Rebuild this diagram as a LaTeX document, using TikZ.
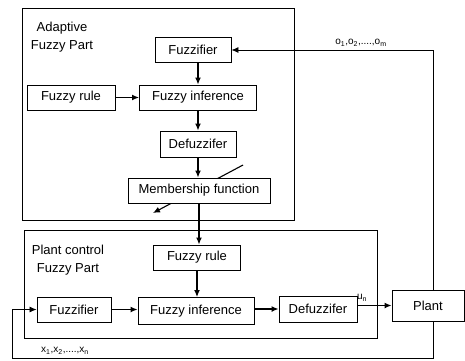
\documentclass[tikz,border=0pt]{standalone}
\usepackage{fontspec}
\setmainfont{Liberation Sans}
\usetikzlibrary{arrows.meta}
\begin{document}
\begin{tikzpicture}[x=1pt,y=-1pt,
  blk/.style={draw,line width=0.9pt,fill=white,inner sep=0pt,font=\fontsize{13}{15}\selectfont},
  frame/.style={draw,line width=0.7pt},
  arr/.style={line width=1.3pt,-{Latex[length=7pt,width=6pt]}},
  fb/.style={line width=0.8pt},
  fbarr/.style={line width=0.8pt,-{Latex[length=7pt,width=6pt]}},
  lbl/.style={font=\fontsize{10}{12}\selectfont,inner sep=1pt},
  ttl/.style={font=\fontsize{13}{18}\selectfont,align=center,inner sep=0pt}]
\useasboundingbox (0,0) rectangle (465,360);
% frames
\draw[frame] (22,8) rectangle (294,220);
\draw[frame] (24,230) rectangle (377,338);
\node[ttl] (t1) at (62,37) {Adaptive\\Fuzzy Part};
\node[ttl] (t2) at (68,260) {Plant control\\Fuzzy Part};
% diagonal adaptation arrow (behind membership box)
\coordinate (dgA) at (243,165);
\coordinate (dgB) at (153,213);
\draw[line width=1.1pt,-{Latex[length=7pt,width=6pt]}] (dgA) -- (dgB);
% adaptive part
\node[blk,minimum width=76pt,minimum height=25pt] (fz1) at (193,50) {Fuzzifier};
\node[blk,minimum width=88pt,minimum height=25pt] (fr1) at (71,97.5) {Fuzzy rule};
\node[blk,minimum width=117pt,minimum height=25pt] (fi1) at (198,97.5) {Fuzzy inference};
\node[blk,minimum width=76pt,minimum height=26pt] (df1) at (198,144) {Defuzzifer};
\node[blk,minimum width=142pt,minimum height=25pt] (mf) at (199,190.5) {Membership function};
% plant control part
\node[blk,minimum width=87pt,minimum height=25pt] (fr2) at (197,257.5) {Fuzzy rule};
\node[blk,minimum width=74pt,minimum height=25pt] (fz2) at (74,309.5) {Fuzzifier};
\node[blk,minimum width=116pt,minimum height=27pt] (fi2) at (196,311) {Fuzzy inference};
\node[blk,minimum width=78pt,minimum height=26pt] (df2) at (318,309) {Defuzzifer};
\node[blk,minimum width=72pt,minimum height=31pt] (plant) at (428,305.5) {Plant};
% arrows
\draw[arr] (fi1.north |- fz1.south) -- (fi1.north);
\draw[arr] (fr1.east) -- (fi1.west);
\draw[arr] (fi1.south) -- (df1.north);
\draw[arr] (df1.south) -- (df1.south |- mf.north);
\draw[arr] (mf.south) -- (mf.south |- fr2.north);
\draw[arr] (fr2.south) -- (fr2.south |- fi2.north);
\draw[arr] (fz2.east) -- (fz2.east -| fi2.west);
\draw[arr] (fi2.east |- df2.west) -- (df2.west);
\draw[arr] (df2.east |- plant.west) -- (plant.west);
\node[lbl] (un) at (362,298) {u\textsubscript{n}};
% feedback loops
\coordinate (ot) at (433,50);
\coordinate (ob) at (433,358);
\coordinate (lb) at (12,358);
\draw[fbarr] (plant.north -| ot) -- (ot) -- (fz1.east);
\draw[fbarr] (plant.south -| ob) -- (ob) -- (lb) |- (fz2.west);
\node[lbl] (olbl) at (361,43) {o\textsubscript{1},o\textsubscript{2},....,o\textsubscript{m}};
\node[lbl] (xlbl) at (65,351) {x\textsubscript{1},x\textsubscript{2},....,x\textsubscript{n}};
\end{tikzpicture}
\end{document}
